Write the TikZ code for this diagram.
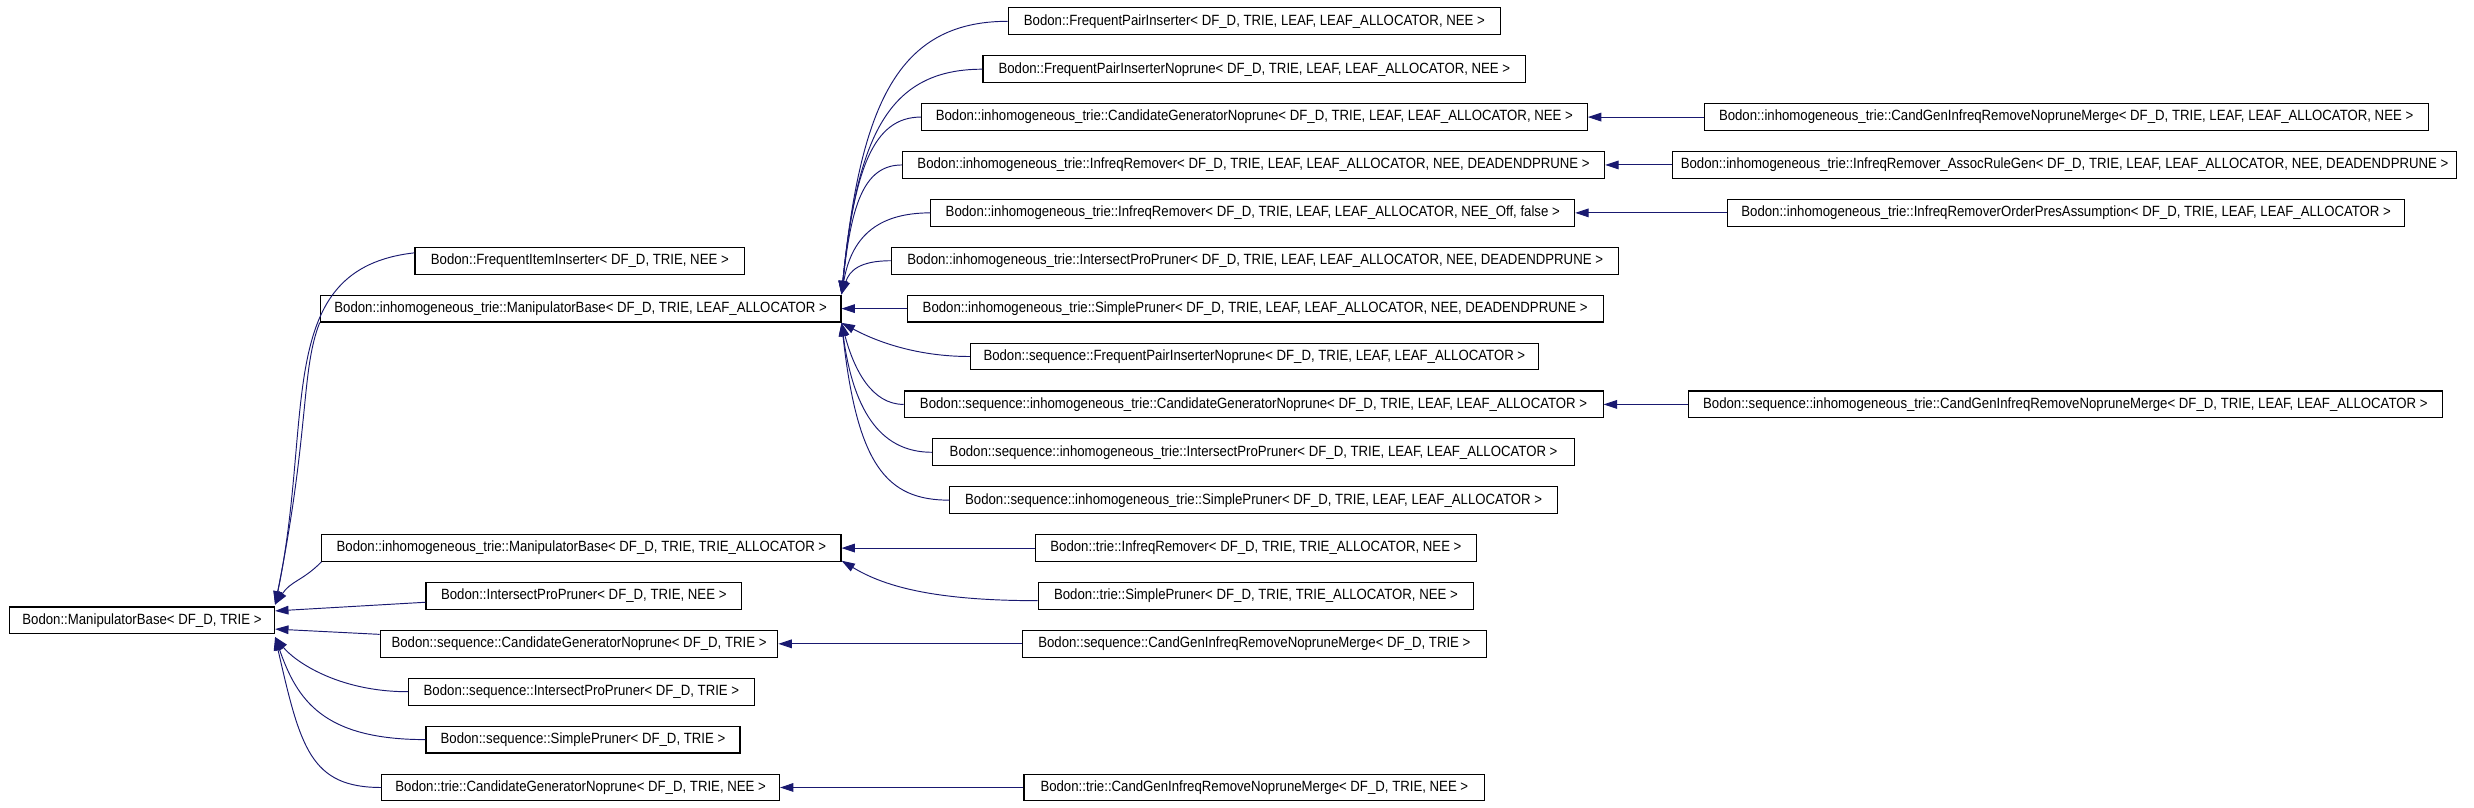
\documentclass[tikz,border=0pt]{standalone}
\usepackage[svgnames]{xcolor}
\usepackage{fontspec}
\setmainfont{Liberation Sans}[FakeStretch=0.89]
\usepackage{tikz}
\usetikzlibrary{arrows.meta}
\colorlet{inheritEdge}{MidnightBlue}
\colorlet{classBorder}{black}

\begin{document}
\begin{tikzpicture}[
  x=1pt,
  y=-1pt,
  class box/.style={
    draw=classBorder,
    line width=0.7pt,
    fill=white,
    minimum height=17pt,
    inner xsep=2pt,
    inner ysep=0pt,
    font=\fontsize{9.4}{10}\selectfont,
  },
  inherit/.style={
    draw=inheritEdge,
    line width=0.6pt,
    -{Triangle[length=8.5pt,width=5.5pt]},
  },
]
\useasboundingbox (0,0) rectangle (1568,511.5);
% base class
\node[class box,minimum width=168pt] (manipBase) at (90,393.2) {Bodon::ManipulatorBase< DF\_D, TRIE >};
% first level
\node[class box,minimum width=209pt] (freqItemIns) at (367.5,165.25) {Bodon::FrequentItemInserter< DF\_D, TRIE, NEE >};
\node[class box,minimum width=330pt] (inhomBaseLeaf) at (368,195.6) {Bodon::inhomogeneous\_trie::ManipulatorBase< DF\_D, TRIE, LEAF\_ALLOCATOR >};
\node[class box,minimum width=329pt] (inhomBaseTrie) at (368.5,347.35) {Bodon::inhomogeneous\_trie::ManipulatorBase< DF\_D, TRIE, TRIE\_ALLOCATOR >};
\node[class box,minimum width=200pt] (isectPruner) at (370,377.7) {Bodon::IntersectProPruner< DF\_D, TRIE, NEE >};
\node[class box,minimum width=252pt] (seqCandGen) at (367,408.05) {Bodon::sequence::CandidateGeneratorNoprune< DF\_D, TRIE >};
\node[class box,minimum width=219pt] (seqIsectPruner) at (368.5,438.4) {Bodon::sequence::IntersectProPruner< DF\_D, TRIE >};
\node[class box,minimum width=199pt] (seqSimplePruner) at (369.5,468.75) {Bodon::sequence::SimplePruner< DF\_D, TRIE >};
\node[class box,minimum width=252pt] (trieCandGen) at (368,499.1) {Bodon::trie::CandidateGeneratorNoprune< DF\_D, TRIE, NEE >};
% second level
\node[class box,minimum width=312pt] (pairIns) at (795,13.5) {Bodon::FrequentPairInserter< DF\_D, TRIE, LEAF, LEAF\_ALLOCATOR, NEE >};
\node[class box,minimum width=344pt] (pairInsNoprune) at (795,43.85) {Bodon::FrequentPairInserterNoprune< DF\_D, TRIE, LEAF, LEAF\_ALLOCATOR, NEE >};
\node[class box,minimum width=422pt] (inhomCandGen) at (795,74.2) {Bodon::inhomogeneous\_trie::CandidateGeneratorNoprune< DF\_D, TRIE, LEAF, LEAF\_ALLOCATOR, NEE >};
\node[class box,minimum width=445pt] (inhomInfreq) at (794.5,104.55) {Bodon::inhomogeneous\_trie::InfreqRemover< DF\_D, TRIE, LEAF, LEAF\_ALLOCATOR, NEE, DEADENDPRUNE >};
\node[class box,minimum width=408pt] (inhomInfreqOff) at (794,134.9) {Bodon::inhomogeneous\_trie::InfreqRemover< DF\_D, TRIE, LEAF, LEAF\_ALLOCATOR, NEE\_Off, false >};
\node[class box,minimum width=461pt] (inhomIsect) at (795.5,165.25) {Bodon::inhomogeneous\_trie::IntersectProPruner< DF\_D, TRIE, LEAF, LEAF\_ALLOCATOR, NEE, DEADENDPRUNE >};
\node[class box,minimum width=441pt] (inhomSimple) at (795.5,195.6) {Bodon::inhomogeneous\_trie::SimplePruner< DF\_D, TRIE, LEAF, LEAF\_ALLOCATOR, NEE, DEADENDPRUNE >};
\node[class box,minimum width=360pt] (seqPairIns) at (795,225.95) {Bodon::sequence::FrequentPairInserterNoprune< DF\_D, TRIE, LEAF, LEAF\_ALLOCATOR >};
\node[class box,minimum width=443pt] (seqInhomCandGen) at (794.5,256.3) {Bodon::sequence::inhomogeneous\_trie::CandidateGeneratorNoprune< DF\_D, TRIE, LEAF, LEAF\_ALLOCATOR >};
\node[class box,minimum width=407pt] (seqInhomIsect) at (794.5,286.65) {Bodon::sequence::inhomogeneous\_trie::IntersectProPruner< DF\_D, TRIE, LEAF, LEAF\_ALLOCATOR >};
\node[class box,minimum width=385pt] (seqInhomSimple) at (794.5,317) {Bodon::sequence::inhomogeneous\_trie::SimplePruner< DF\_D, TRIE, LEAF, LEAF\_ALLOCATOR >};
\node[class box,minimum width=280pt] (trieInfreq) at (796,347.35) {Bodon::trie::InfreqRemover< DF\_D, TRIE, TRIE\_ALLOCATOR, NEE >};
\node[class box,minimum width=276pt] (trieSimple) at (796,377.7) {Bodon::trie::SimplePruner< DF\_D, TRIE, TRIE\_ALLOCATOR, NEE >};
\node[class box,minimum width=294pt] (seqMerge) at (795,408.05) {Bodon::sequence::CandGenInfreqRemoveNopruneMerge< DF\_D, TRIE >};
\node[class box,minimum width=292pt] (trieMerge) at (795,499.1) {Bodon::trie::CandGenInfreqRemoveNopruneMerge< DF\_D, TRIE, NEE >};
% third level
\node[class box,minimum width=459pt] (inhomMerge) at (1309.5,74.2) {Bodon::inhomogeneous\_trie::CandGenInfreqRemoveNopruneMerge< DF\_D, TRIE, LEAF, LEAF\_ALLOCATOR, NEE >};
\node[class box,minimum width=497pt] (inhomAssoc) at (1308.5,104.55) {Bodon::inhomogeneous\_trie::InfreqRemover\_AssocRuleGen< DF\_D, TRIE, LEAF, LEAF\_ALLOCATOR, NEE, DEADENDPRUNE >};
\node[class box,minimum width=429pt] (inhomOrderPres) at (1309.5,134.9) {Bodon::inhomogeneous\_trie::InfreqRemoverOrderPresAssumption< DF\_D, TRIE, LEAF, LEAF\_ALLOCATOR >};
\node[class box,minimum width=478pt] (seqInhomMerge) at (1309,256.3) {Bodon::sequence::inhomogeneous\_trie::CandGenInfreqRemoveNopruneMerge< DF\_D, TRIE, LEAF, LEAF\_ALLOCATOR >};

% edges into the base class
\draw[inherit] ([yshift=5pt]freqItemIns.west) .. controls +(-90,10) and +(25,-120) .. ([yshift=10pt]manipBase.east);
\draw[inherit] (inhomBaseLeaf.south west) .. controls +(-12,30) and +(22,-110) .. ([yshift=10pt]manipBase.east);
\draw[inherit] (inhomBaseTrie.south west) .. controls +(-12,12) and +(10,-15) .. ([yshift=10pt]manipBase.east);
\draw[inherit] ([yshift=-4pt]isectPruner.west) -- ([yshift=6pt]manipBase.east);
\draw[inherit] ([yshift=6pt]seqCandGen.west) -- ([yshift=-5.5pt]manipBase.east);
\draw[inherit] (seqIsectPruner.west) .. controls +(-45,0) and +(12,15) .. ([yshift=-10.5pt]manipBase.east);
\draw[inherit] (seqSimplePruner.west) .. controls +(-65,0) and +(14,40) .. ([yshift=-10.5pt]manipBase.east);
\draw[inherit] (trieCandGen.west) .. controls +(-45,0) and +(16,70) .. ([yshift=-10.5pt]manipBase.east);

% edges into the leaf allocator base
\draw[inherit] (pairIns.west) .. controls +(-70,0) and +(12,-120) .. ([yshift=9pt]inhomBaseLeaf.east);
\draw[inherit] (pairInsNoprune.west) .. controls +(-60,0) and +(10,-100) .. ([yshift=9pt]inhomBaseLeaf.east);
\draw[inherit] (inhomCandGen.west) .. controls +(-30,0) and +(8,-80) .. ([yshift=9pt]inhomBaseLeaf.east);
\draw[inherit] (inhomInfreq.west) .. controls +(-25,0) and +(6,-55) .. ([yshift=9pt]inhomBaseLeaf.east);
\draw[inherit] (inhomInfreqOff.west) .. controls +(-35,0) and +(6,-35) .. ([yshift=9pt]inhomBaseLeaf.east);
\draw[inherit] (inhomIsect.west) .. controls +(-20,0) and +(5,-15) .. ([yshift=9pt]inhomBaseLeaf.east);
\draw[inherit] (inhomSimple.west) -- (inhomBaseLeaf.east);
\draw[inherit] (seqPairIns.west) .. controls +(-40,0) and +(15,8) .. ([yshift=-9pt]inhomBaseLeaf.east);
\draw[inherit] (seqInhomCandGen.west) .. controls +(-20,0) and +(8,30) .. ([yshift=-9pt]inhomBaseLeaf.east);
\draw[inherit] (seqInhomIsect.west) .. controls +(-30,0) and +(8,60) .. ([yshift=-9pt]inhomBaseLeaf.east);
\draw[inherit] (seqInhomSimple.west) .. controls +(-40,0) and +(10,90) .. ([yshift=-9pt]inhomBaseLeaf.east);

% edges into the trie allocator base and the rest
\draw[inherit] (trieInfreq.west) -- (inhomBaseTrie.east);
\draw[inherit] ([yshift=-3pt]trieSimple.west) .. controls +(-70,0) and +(25,15) .. ([yshift=-8pt]inhomBaseTrie.east);
\draw[inherit] (seqMerge.west) -- (seqCandGen.east);
\draw[inherit] (trieMerge.west) -- (trieCandGen.east);
\draw[inherit] (inhomMerge.west) -- (inhomCandGen.east);
\draw[inherit] (inhomAssoc.west) -- (inhomInfreq.east);
\draw[inherit] (inhomOrderPres.west) -- (inhomInfreqOff.east);
\draw[inherit] (seqInhomMerge.west) -- (seqInhomCandGen.east);
\end{tikzpicture}
\end{document}
